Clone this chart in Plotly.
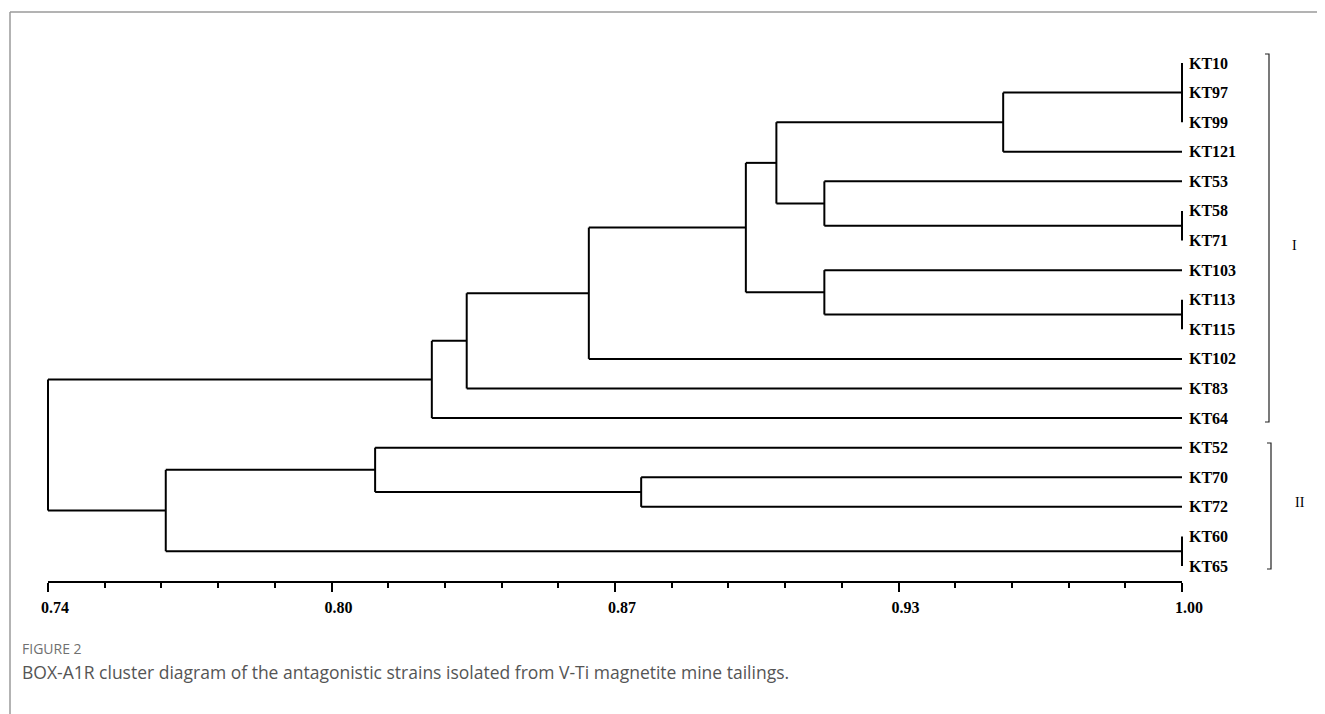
import plotly.graph_objects as go

# ---------------- data ----------------
leaves = ["KT10", "KT97", "KT99", "KT121", "KT53", "KT58", "KT71", "KT103", "KT113",
          "KT115", "KT102", "KT83", "KT64", "KT52", "KT70", "KT72", "KT60", "KT65"]

node_names = ["g1", "g2", "g3", "g4", "n1", "n2", "n3", "n4", "n5", "n6", "n7", "n8",
              "n9", "n10", "n11", "root"]
node_children = [
    ["KT10", "KT97", "KT99"],
    ["KT58", "KT71"],
    ["KT113", "KT115"],
    ["KT60", "KT65"],
    ["g1", "KT121"],
    ["KT53", "g2"],
    ["n1", "n2"],
    ["KT103", "g3"],
    ["n3", "n4"],
    ["n5", "KT102"],
    ["n6", "KT83"],
    ["n7", "KT64"],
    ["KT70", "KT72"],
    ["KT52", "n9"],
    ["n10", "g4"],
    ["n8", "n11"],
]
node_similarity = [1.00, 1.00, 1.00, 1.00, 0.959, 0.918, 0.907, 0.918, 0.900, 0.864,
                   0.836, 0.828, 0.876, 0.815, 0.767, 0.740]

tick_values = [0.74, 0.805, 0.87, 0.935, 1.00]
tick_labels = ["0.74", "0.80", "0.87", "0.93", "1.00"]
minor_step = 0.013

cluster_names = ["I", "II"]

# ---------------- geometry helpers ----------------
OFF = 8                         # page body margin
W, H = 1325 - OFF, 714 - OFF
X0PX, X1PX = 48 - OFF, 1182 - OFF   # pixel of 0.74 and 1.00
Y0PX, DYPX = 63 - OFF, 29.59        # pixel of first leaf, leaf spacing
AXIS_PX = 582 - OFF

xscale = (1.00 - 0.74) / (X1PX - X0PX)
x_range = [0.74 - X0PX * xscale, 0.74 + (W - X0PX) * xscale]
y_range = [(H - Y0PX) / DYPX, -Y0PX / DYPX]
axis_y = (AXIS_PX - Y0PX) / DYPX


def px_x(px):
    return 0.74 + (px - OFF - X0PX) * xscale


def px_y(py):
    return (py - OFF - Y0PX) / DYPX


# ---------------- build dendrogram segments ----------------
pos = {name: (1.00, float(i)) for i, name in enumerate(leaves)}
xs, ys = [], []
for name, kids, sim in zip(node_names, node_children, node_similarity):
    kid_pos = [pos[k] for k in kids]
    y_top = kid_pos[0][1]
    y_bot = kid_pos[-1][1]
    xs += [sim, sim, None]
    ys += [y_top, y_bot, None]
    for kx, ky in kid_pos:
        if kx > sim:
            xs += [sim, kx, None]
            ys += [ky, ky, None]
    pos[name] = (sim, (y_top + y_bot) / 2)

fig = go.Figure()
fig.add_trace(go.Scatter(x=xs, y=ys, mode="lines",
                         line=dict(color="black", width=2),
                         hoverinfo="skip", showlegend=False))

# leaf labels
for i, name in enumerate(leaves):
    fig.add_annotation(x=1.00, y=i, text=name, showarrow=False, xanchor="left",
                       yanchor="middle", xshift=5,
                       font=dict(family="Liberation Serif", size=16, color="black",
                                 weight="bold"))

# axis line from 0.74 to 1.00
fig.add_shape(type="line", x0=tick_values[0], x1=tick_values[-1], y0=axis_y, y1=axis_y,
              xref="x", yref="y", line=dict(color="black", width=2))

n_minor = round((tick_values[-1] - tick_values[0]) / minor_step)
minor_vals = [round(tick_values[0] + k * minor_step, 4) for k in range(n_minor + 1)]


def bracket(xpx, top, bot):
    x = px_x(xpx)
    xl = px_x(xpx - 4)
    return dict(type="path", xref="x", yref="y",
                path=f"M {xl},{px_y(top)} L {x},{px_y(top)} L {x},{px_y(bot)} L {xl},{px_y(bot)}",
                line=dict(color="#222", width=1.2))


fig.add_shape(**bracket(1269, 54, 422))
fig.add_shape(**bracket(1271, 443, 569))
fig.add_annotation(x=px_x(1294), y=px_y(245), text=cluster_names[0], showarrow=False,
                   font=dict(family="Liberation Serif", size=14, color="black"))
fig.add_annotation(x=px_x(1300), y=px_y(502), text=cluster_names[1], showarrow=False,
                   font=dict(family="Liberation Serif", size=14, color="black"))

# frame (top and left edges)
fx, fy = (10 - OFF) / W, 1 - (12 - OFF) / H
fig.add_shape(type="line", xref="paper", yref="paper", x0=fx, x1=1, y0=fy, y1=fy,
              line=dict(color="#9a9a9a", width=1.5))
fig.add_shape(type="line", xref="paper", yref="paper", x0=fx, x1=fx, y0=0, y1=fy,
              line=dict(color="#9a9a9a", width=1.5))

# caption
fig.add_annotation(xref="paper", yref="paper", x=(20 - OFF) / W, y=1 - (648 - OFF) / H,
                   text="FIGURE 2", showarrow=False, xanchor="left", yanchor="middle",
                   font=dict(family="Open Sans", size=14, color="#707070"))
fig.add_annotation(xref="paper", yref="paper", x=(20 - OFF) / W, y=1 - (672 - OFF) / H,
                   text="BOX-A1R cluster diagram of the antagonistic strains isolated from V-Ti magnetite mine tailings.",
                   showarrow=False, xanchor="left", yanchor="middle",
                   font=dict(family="Open Sans", size=17.5, color="#555555"))

fig.update_layout(
    width=W, height=H,
    margin=dict(l=0, r=0, t=0, b=0),
    paper_bgcolor="white", plot_bgcolor="white",
    xaxis=dict(range=x_range, domain=[0, 1], anchor="free", position=1 - AXIS_PX / H,
               showgrid=False, zeroline=False, showline=False,
               tickmode="array", tickvals=tick_values, ticktext=tick_labels,
               ticks="outside", ticklen=9, tickwidth=2, tickcolor="black",
               ticklabelshift=7, ticklabelstandoff=2,
               tickfont=dict(family="Liberation Serif", size=16, color="black", weight="bold"),
               minor=dict(tickmode="array", tickvals=minor_vals, ticks="outside",
                          ticklen=5, tickwidth=2, tickcolor="black", showgrid=False)),
    yaxis=dict(range=y_range, domain=[0, 1], visible=False, showgrid=False,
               zeroline=False),
    showlegend=False,
)

fig.write_html("out.html")
